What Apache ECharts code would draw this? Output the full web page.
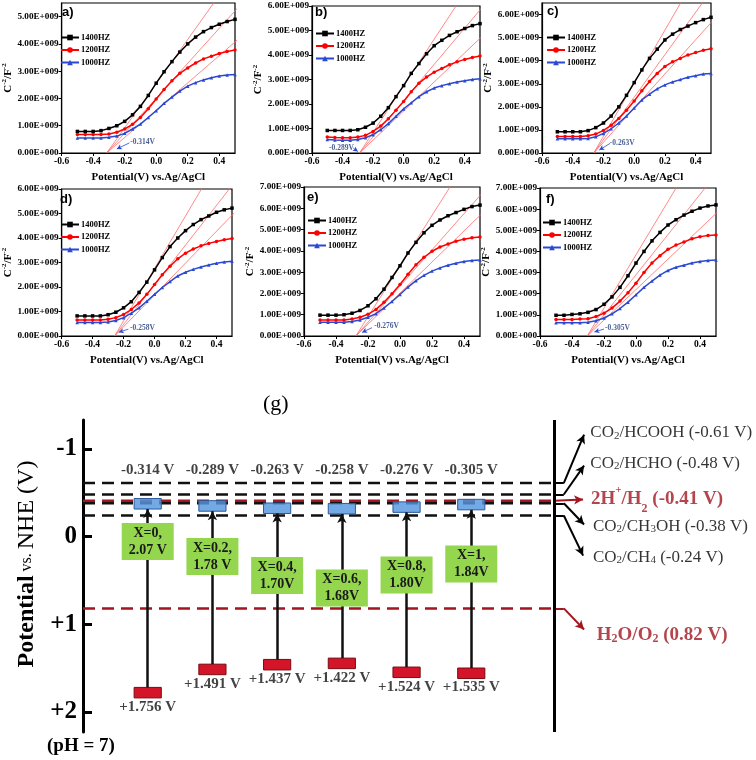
<!DOCTYPE html>
<html><head><meta charset="utf-8">
<script src="https://cdn.jsdelivr.net/npm/echarts@6/dist/echarts.min.js"></script>
<style>html,body{margin:0;padding:0;background:#fff}#c{width:756px;height:760px}</style>
</head><body><div id="c"></div>
<script>
// ---------- Data: Mott-Schottky panels (C^-2 in units of 1E9 F^-2) ----------
const potentials = [-0.5,-0.45,-0.4,-0.35,-0.3,-0.25,-0.2,-0.15,-0.1,-0.05,0,0.05,0.1,0.15,0.2,0.25,0.3,0.35,0.4,0.45,0.5];
const seriesNames = ['1400HZ','1200HZ','1000HZ'];
const panelLabels = ['a)','b)','c)','d)','e)','f)'];
const flatBand = [-0.314,-0.289,-0.263,-0.258,-0.276,-0.305];
const yMax = [5.5,6,6.5,6,7,7];

const a1400 = [0.79,0.79,0.79,0.82,0.9,1.0,1.16,1.4,1.71,2.11,2.56,2.98,3.35,3.7,4.0,4.25,4.45,4.6,4.72,4.82,4.9];
const a1200 = [0.68,0.68,0.68,0.68,0.7,0.76,0.88,1.05,1.3,1.62,1.98,2.33,2.65,2.92,3.12,3.3,3.45,3.55,3.65,3.72,3.78];
const a1000 = [0.55,0.55,0.55,0.55,0.58,0.62,0.72,0.88,1.06,1.3,1.55,1.82,2.05,2.27,2.45,2.58,2.68,2.76,2.82,2.86,2.88];
const b1400 = [0.92,0.92,0.92,0.92,0.95,1.05,1.22,1.5,1.85,2.3,2.75,3.25,3.65,4.05,4.38,4.6,4.8,4.95,5.08,5.2,5.28];
const b1200 = [0.65,0.63,0.62,0.62,0.65,0.72,0.88,1.1,1.4,1.75,2.1,2.5,2.85,3.1,3.3,3.45,3.6,3.72,3.82,3.9,3.96];
const b1000 = [0.55,0.53,0.52,0.52,0.55,0.62,0.75,0.95,1.2,1.5,1.8,2.05,2.3,2.5,2.65,2.75,2.83,2.9,2.95,3.0,3.03];
const c1400 = [0.92,0.92,0.92,0.92,0.97,1.1,1.3,1.6,2.0,2.5,3.05,3.6,4.1,4.5,4.9,5.15,5.35,5.5,5.65,5.78,5.88];
const c1200 = [0.72,0.72,0.72,0.72,0.75,0.82,0.98,1.2,1.5,1.85,2.25,2.7,3.1,3.45,3.75,3.95,4.1,4.25,4.35,4.45,4.52];
const c1000 = [0.62,0.62,0.62,0.62,0.63,0.7,0.85,1.05,1.3,1.6,1.95,2.3,2.55,2.78,2.95,3.08,3.18,3.28,3.35,3.42,3.45];
const d1400 = [0.82,0.82,0.82,0.82,0.87,0.97,1.15,1.4,1.78,2.2,2.7,3.2,3.65,4.0,4.3,4.55,4.75,4.9,5.05,5.15,5.22];
const d1200 = [0.65,0.65,0.65,0.65,0.68,0.75,0.88,1.08,1.35,1.7,2.1,2.5,2.85,3.15,3.38,3.55,3.68,3.78,3.86,3.93,3.98];
const d1000 = [0.55,0.55,0.55,0.55,0.57,0.63,0.75,0.93,1.15,1.42,1.7,1.98,2.22,2.45,2.6,2.72,2.82,2.9,2.97,3.02,3.05];
const e1400 = [0.98,0.98,0.98,1.0,1.07,1.2,1.42,1.75,2.2,2.75,3.3,3.9,4.4,4.85,5.2,5.45,5.65,5.8,5.95,6.08,6.15];
const e1200 = [0.75,0.75,0.75,0.75,0.8,0.88,1.02,1.25,1.58,1.98,2.42,2.9,3.35,3.7,3.98,4.18,4.32,4.45,4.55,4.62,4.65];
const e1000 = [0.65,0.65,0.65,0.65,0.68,0.75,0.88,1.05,1.32,1.62,1.95,2.3,2.6,2.85,3.05,3.2,3.32,3.42,3.5,3.55,3.57];
const f1400 = [0.98,0.98,1.02,1.05,1.12,1.25,1.5,1.85,2.3,2.85,3.45,4.0,4.5,4.9,5.25,5.5,5.72,5.9,6.05,6.15,6.2];
const f1200 = [0.78,0.78,0.78,0.8,0.82,0.92,1.08,1.32,1.65,2.05,2.5,3.0,3.45,3.8,4.1,4.3,4.45,4.6,4.7,4.75,4.78];
const f1000 = [0.63,0.63,0.63,0.63,0.65,0.72,0.85,1.05,1.3,1.6,1.95,2.3,2.6,2.88,3.1,3.25,3.35,3.45,3.52,3.57,3.6];

// tangent slopes (1E9 per V)
const slope1400 = [8.1,9.5,11.5,10.7,11.9,12.6];
const slope1200 = [6.4,7.4,9.2,8.1,8.5,9.5];
const slope1000 = [5.0,5.93,7.4,6.5,7.3,7.2];

// ---------- Data: band diagram (g) ----------
const compositions = ['X=0','X=0.2','X=0.4','X=0.6','X=0.8','X=1'];
const gapText = ['2.07 V','1.78 V','1.70V','1.68V','1.80V','1.84V'];
const cbPotential = [-0.314,-0.289,-0.263,-0.258,-0.276,-0.305];
const vbPotential = [1.756,1.491,1.437,1.422,1.524,1.535];
const redoxPotential = [-0.61,-0.48,-0.41,-0.38,-0.24,0.82];
const redoxLabels = [
  '{n|CO}{s|2}{n|/HCOOH (-0.61 V)}',
  '{n|CO}{s|2}{n|/HCHO (-0.48 V)}',
  '{r|2H}{rsup|+}{r|/H}{rs|2}{r| (-0.41 V)}',
  '{n|CO}{s|2}{n|/CH}{s|3}{n|OH (-0.38 V)}',
  '{n|CO}{s|2}{n|/CH}{s|4}{n| (-0.24 V)}',
  '{r|H}{rs|2}{r|O/O}{rs|2}{r| (0.82 V)}'
];
const gTicks = [-1,0,1,2];

// ---------- Layout (positions, not data) ----------
const panelGrids = [
  {left:56, top:3, width:179, height:150},
  {left:312, top:6, width:168, height:147},
  {left:542, top:3, width:169, height:150},
  {left:56, top:189, width:176, height:147},
  {left:304, top:187, width:176, height:149},
  {left:540, top:188, width:176, height:148}
];
const legendPos = [[60,33],[315,29],[546,33],[60,220],[307,216],[542,218]];
const labelPos = [[62,13],[315,13],[547,12],[60,200],[307,198],[546,200]];
const annCenter = [[-0.086,0.40],[-0.407,0.2],[-0.078,0.43],[-0.078,0.31],[-0.084,0.47],[-0.116,0.38]];
const annArrow = [[[-0.17,0.37],[-0.25,0.15]],[[-0.33,0.2],[-0.3,0.06]],[[-0.156,0.42],[-0.227,0.13]],[[-0.169,0.28],[-0.231,0.15]],[[-0.175,0.39],[-0.237,0.17]],[[-0.2,0.33],[-0.26,0.19]]];
const colX = [1,2,3,4,5,6];
const gapBoxY = [0.057,0.228,0.445,0.587,0.44,0.314];
const cbLabelY = -0.753;
const rightLineX = 7.28, bendX = 7.43;
const arrowTips = [[7.743,-1.163],[7.743,-0.81],[7.728,-0.422],[7.743,-0.137],[7.728,0.217],[7.743,1.061]];
const redoxLabelPos = [[7.84,-1.186],[7.84,-0.833],[7.85,-0.422],[7.88,-0.12],[7.88,0.24],[7.94,1.129]];

const SERIF = 'Liberation Serif';
const curveColors = ['#000000','#ff0000','#2a48d0'];
const curveSymbols = ['rect','circle','triangle'];
const darkRed = '#a3161f';

const panelData = [[a1400,a1200,a1000],[b1400,b1200,b1000],[c1400,c1200,c1000],[d1400,d1200,d1000],[e1400,e1200,e1000],[f1400,f1200,f1000]];
const slopes = [slope1400, slope1200, slope1000];

const grids = [], xAxes = [], yAxes = [], series = [], legends = [], graphics = [];

panelData.forEach((curves, p) => {
  grids.push(Object.assign({show:true, borderColor:'#000', borderWidth:1.2}, panelGrids[p]));
  xAxes.push({
    type:'value', gridIndex:p, min:-0.6, max:0.5, interval:0.2,
    axisLine:{show:true, onZero:false, lineStyle:{color:'#000', width:1.2}},
    axisTick:{show:true, length:3, lineStyle:{color:'#000'}},
    splitLine:{show:false},
    axisLabel:{showMaxLabel:false, fontFamily:SERIF, fontWeight:'bold', fontSize:9.5, color:'#000', margin:4,
      formatter:v=>v.toFixed(1)},
    name:'Potential(V) vs.Ag/AgCl', nameLocation:'middle', nameGap:19,
    nameTextStyle:{fontFamily:SERIF, fontWeight:'bold', fontSize:11, color:'#000'}
  });
  yAxes.push({
    type:'value', gridIndex:p, min:0, max:yMax[p], interval:1,
    axisLine:{show:true, onZero:false, lineStyle:{color:'#000', width:1.2}},
    axisTick:{show:true, length:3, lineStyle:{color:'#000'}},
    splitLine:{show:false},
    axisLabel:{showMaxLabel: yMax[p] % 1 === 0, fontFamily:SERIF, fontWeight:'bold', fontSize:9.2, color:'#000', margin:3,
      formatter:v=> v===0 ? '0.00E+000' : v.toFixed(2)+'E+009'},
    name:'{b|C}{s|-2}{b|/F}{s|-2}', nameLocation:'middle', nameGap:46, nameRotate:90,
    nameTextStyle:{rich:{
      b:{fontFamily:SERIF, fontWeight:'bold', fontSize:11, color:'#000'},
      s:{fontFamily:SERIF, fontWeight:'bold', fontSize:7, color:'#000', verticalAlign:'top', lineHeight:14}
    }}
  });
  curves.forEach((arr, k) => {
    series.push({
      type:'line', name:seriesNames[k], xAxisIndex:p, yAxisIndex:p,
      data: potentials.map((x,i)=>[x, arr[i]]),
      symbol:curveSymbols[k], symbolSize:3.5, showSymbol:true,
      itemStyle:{color:curveColors[k]}, lineStyle:{color:curveColors[k], width:1.5},
      z:4, silent:true
    });
  });
  slopes.forEach((s, k) => {
    const fb = flatBand[p];
    series.push({
      type:'line', xAxisIndex:p, yAxisIndex:p, clip:true, silent:true,
      data:[[fb,0],[0.6, s[p]*(0.6-fb)]],
      symbol:'none', lineStyle:{color:'#ff6b6b', width:0.8}, z:3
    });
  });
  series.push({
    type:'scatter', xAxisIndex:p, yAxisIndex:p, silent:true, symbolSize:0,
    data:[annCenter[p]],
    label:{show:true, position:'inside', formatter:()=>String(flatBand[p])+'V',
      fontFamily:SERIF, fontWeight:'bold', fontSize:7.5, color:'#1c3578'},
    markLine:{silent:true, symbol:['none','arrow'], symbolSize:[4,5], label:{show:false},
      lineStyle:{color:'#2a48d0', width:0.8, type:'solid'},
      data:[[{coord:annArrow[p][0]},{coord:annArrow[p][1]}]]},
    z:5
  });
  legends.push({
    left:legendPos[p][0], top:legendPos[p][1], orient:'vertical', itemWidth:18, itemHeight:7, itemGap:3.5, padding:0,
    selectedMode:false, data:seriesNames,
    textStyle:{fontFamily:SERIF, fontWeight:'bold', fontSize:8.5, color:'#000', padding:[0,0,0,-3]}
  });
  graphics.push({type:'text', left:labelPos[p][0], top:labelPos[p][1]-7,
    style:{text:panelLabels[p], font:'bold 13px "Liberation Sans"', fill:'#000'}});
});

// ---------- band diagram grid ----------
const G = 6;
grids.push({left:83, top:420, right:0, bottom:28});
xAxes.push({type:'value', gridIndex:G, min:0, max:10.4, show:false});
yAxes.push({
  type:'value', gridIndex:G, min:-1.33, max:2.23, inverse:true,
  axisLine:{show:true, onZero:false, lineStyle:{color:'#000', width:3}},
  axisTick:{show:true, inside:true, customValues:gTicks, length:9, lineStyle:{color:'#000', width:3}},
  axisLabel:{show:true, customValues:gTicks, fontFamily:SERIF, fontWeight:'bold', fontSize:25, color:'#000', margin:6,
    formatter:v=> v>0 ? '+'+v : String(v)},
  splitLine:{show:false},
  name:'{b|Potential}{v| vs. }{r|NHE (V)}', nameLocation:'middle', nameRotate:90, nameGap:44,
  nameTextStyle:{padding:[0,0,0,24], rich:{
    b:{fontFamily:SERIF, fontWeight:'bold', fontSize:24, color:'#000'},
    v:{fontFamily:SERIF, fontSize:16, color:'#000'},
    r:{fontFamily:SERIF, fontSize:24, color:'#000'}
  }}
});

redoxPotential.forEach((v,i)=>{
  const red = (i===2 || i===5);
  series.push({
    type:'line', xAxisIndex:G, yAxisIndex:G, silent:true, symbol:'none',
    data:[[0,v],[rightLineX,v]],
    lineStyle:{color: red ? darkRed : '#111', width:2.5, type:[12,7]}, z:2
  });
});
const connectorMarks = [];
redoxPotential.forEach((v,i)=>{
  const red = (i===2 || i===5);
  const col = red ? darkRed : '#000';
  if (i!==2) connectorMarks.push([{coord:[rightLineX,v], symbol:'none', lineStyle:{color:col, width:2}},{coord:[bendX,v], symbol:'none'}]);
  connectorMarks.push([{coord:[i===2?rightLineX:bendX, v], symbol:'none', lineStyle:{color:col, width:2}},{coord:arrowTips[i], symbol:'arrow'}]);
});
series.push({
  type:'line', xAxisIndex:G, yAxisIndex:G, data:[], silent:true,
  markLine:{silent:true, symbolSize:[7,9], label:{show:false}, animation:false,
    lineStyle:{type:'solid', width:2, color:'#000'},
    data: connectorMarks.concat([[{coord:[rightLineX,-1.33], symbol:'none', lineStyle:{color:'#000', width:3}},{coord:[rightLineX,2.23], symbol:'none'}]])},
  z:3
});
series.push({
  type:'scatter', xAxisIndex:G, yAxisIndex:G, silent:true, symbolSize:0,
  data: redoxLabelPos.map((p,i)=>({value:p, label:{formatter:redoxLabels[i]}})),
  label:{show:true, position:'right', distance:0, rich:{
    n:{fontFamily:SERIF, fontSize:17, color:'#000'},
    s:{fontFamily:SERIF, fontSize:11, color:'#000', verticalAlign:'bottom', lineHeight:13},
    r:{fontFamily:SERIF, fontWeight:'bold', fontSize:19, color:darkRed},
    rs:{fontFamily:SERIF, fontWeight:'bold', fontSize:12, color:darkRed, verticalAlign:'bottom', lineHeight:14},
    rsup:{fontFamily:SERIF, fontWeight:'bold', fontSize:11, color:darkRed, verticalAlign:'top', lineHeight:30}
  }},
  z:5
});
series.push({
  type:'line', xAxisIndex:G, yAxisIndex:G, data:[], silent:true,
  markLine:{silent:true, symbol:['none','arrow'], symbolSize:[7,9], label:{show:false},
    lineStyle:{type:'solid', width:2.5, color:'#111'},
    data: colX.map((x,i)=>[{coord:[x, vbPotential[i]-0.035]},{coord:[x, cbPotential[i]]}])},
  z:3
});
series.push({
  type:'custom', xAxisIndex:G, yAxisIndex:G, silent:true, z:4,
  data: colX.map((x,i)=>[x, cbPotential[i]]),
  renderItem:(params, api)=>{
    const p1 = api.coord([api.value(0)-0.21, api.value(1)-0.12]);
    const p2 = api.coord([api.value(0)+0.21, api.value(1)]);
    return {type:'rect', shape:{x:p1[0], y:p1[1], width:p2[0]-p1[0], height:p2[1]-p1[1]},
      style:{fill:'rgba(84,150,222,0.82)', stroke:'#2b5a9a', lineWidth:1}};
  }
});
series.push({
  type:'custom', xAxisIndex:G, yAxisIndex:G, silent:true, z:4,
  data: colX.map((x,i)=>[x, vbPotential[i]]),
  renderItem:(params, api)=>{
    const p1 = api.coord([api.value(0)-0.21, api.value(1)-0.035]);
    const p2 = api.coord([api.value(0)+0.21, api.value(1)+0.085]);
    return {type:'rect', shape:{x:p1[0], y:p1[1], width:p2[0]-p1[0], height:p2[1]-p1[1]},
      style:{fill:'#d41428', stroke:'#7a0a12', lineWidth:1}};
  }
});
series.push({
  type:'scatter', xAxisIndex:G, yAxisIndex:G, silent:true, symbolSize:0,
  data: colX.map((x,i)=>[x, vbPotential[i]]),
  label:{show:true, position:'bottom', distance:9, formatter:pp=>'+'+vbPotential[pp.dataIndex].toFixed(3)+' V',
    fontFamily:SERIF, fontWeight:'bold', fontSize:15, color:'#111'},
  z:5
});
series.push({
  type:'scatter', xAxisIndex:G, yAxisIndex:G, silent:true, symbolSize:0,
  data: colX.map((x,i)=>[x, cbLabelY]),
  label:{show:true, position:'inside', formatter:pp=>cbPotential[pp.dataIndex]+' V',
    fontFamily:SERIF, fontWeight:'bold', fontSize:15, color:'#111'},
  z:5
});
series.push({
  type:'scatter', xAxisIndex:G, yAxisIndex:G, silent:true, symbol:'rect', symbolSize:[52,37],
  data: colX.map((x,i)=>[x, gapBoxY[i]]),
  itemStyle:{color:'#94d64e', opacity:1},
  label:{show:true, position:'inside', formatter:pp=>compositions[pp.dataIndex]+',\n'+gapText[pp.dataIndex],
    fontFamily:SERIF, fontWeight:'bold', fontSize:14, lineHeight:17, color:'#1a1a1a'},
  z:6
});

graphics.push({type:'text', left:263, top:393, style:{text:'(g)', font:'22px "Liberation Serif"', fill:'#000'}});
graphics.push({type:'text', left:47, top:737, style:{text:'(pH = 7)', font:'bold 19px "Liberation Serif"', fill:'#000'}});

const chart = echarts.init(document.getElementById('c'), null, {renderer:'canvas'});
chart.setOption({
  animation:false,
  backgroundColor:'#fff',
  grid:grids, xAxis:xAxes, yAxis:yAxes, legend:legends, series:series, graphic:graphics
});
</script></body></html>
